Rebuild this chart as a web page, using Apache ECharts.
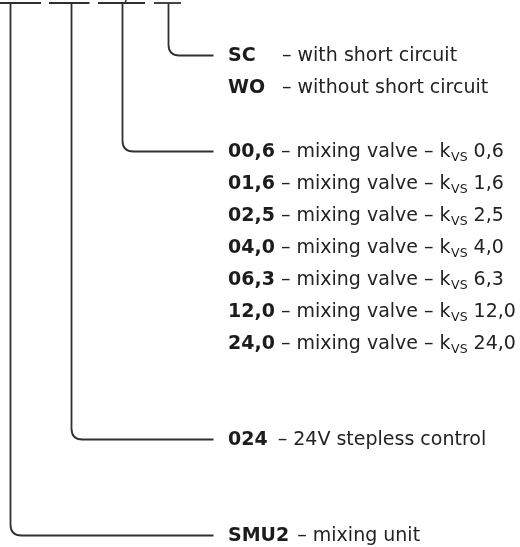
<!DOCTYPE html>
<html>
<head>
<meta charset="utf-8">
<script src="https://cdn.jsdelivr.net/npm/echarts@6/dist/echarts.min.js"></script>
<style>
html,body{margin:0;padding:0;background:#fff;}
#chart{width:520px;height:547px;}
</style>
</head>
<body>
<div id="chart"></div>
<script>
// ---- data ----
const codes = ['SC', 'WO', '00,6', '01,6', '02,5', '04,0', '06,3', '12,0', '24,0', '024', 'SMU2'];
const descriptions = ['with short circuit', 'without short circuit',
  'mixing valve', 'mixing valve', 'mixing valve', 'mixing valve', 'mixing valve', 'mixing valve', 'mixing valve',
  '24V stepless control', 'mixing unit'];
const kvsValues = ['', '', '0,6', '1,6', '2,5', '4,0', '6,3', '12,0', '24,0', '', ''];
const rowIndex = [0, 1, 3, 4, 5, 6, 7, 8, 9, 12, 15];
const codeSlot = [3, 3, 2, 2, 2, 2, 2, 2, 2, 1, 0];
const slots = [0, 1, 2, 3];

// ---- layout / style ----
const FONT = '"DejaVu Sans", Verdana, sans-serif';
const FS = 19, SUB_FS = 12.5;
const LINE = '#303030', TEXT = '#222222';
const slotSegments = [[-6, 41], [49, 89.5], [98, 145], [154, 181]];
const slotStems = [10.5, 71.5, 122.5, 168.5];
const topLineY = 3;
const lineEndX = 213.5, textX = 228, columnX = 282, radius = 11, textDy = 1;

const mctx = document.createElement('canvas').getContext('2d');
function measure(str, size, bold) {
  mctx.font = (bold ? 'bold ' : '') + size + 'px ' + FONT;
  return mctx.measureText(str).width;
}

// first row of each slot
const slotFirstRow = slots.map(s => {
  let m = Infinity;
  codeSlot.forEach((cs, i) => { if (cs === s) m = Math.min(m, rowIndex[i]); });
  return m;
});

const chart = echarts.init(document.getElementById('chart'), null, {renderer: 'canvas'});
chart.setOption({
  animation: false,
  backgroundColor: '#ffffff',
  grid: {left: 0, right: 0, top: 0, bottom: 0},
  xAxis: {type: 'value', min: 0, max: 520, show: false},
  yAxis: {type: 'value', min: -55 / 32, max: (547 - 55) / 32, inverse: true, show: false},
  graphic: [{
    type: 'line', shape: {x1: 126.5, y1: -1, x2: 125.3, y2: 2.2},
    style: {stroke: LINE, lineWidth: 1.4}
  }],
  series: [
    {
      type: 'custom',
      name: 'connectors',
      clip: false,
      data: slots.map(s => [s, slotFirstRow[s]]),
      encode: {x: 0, y: 1},
      renderItem: function (params, api) {
        const s = api.value(0);
        const row = api.value(1);
        const y = Math.round(api.coord([0, row])[1]) + 0.5;
        const seg = slotSegments[s];
        const xs = slotStems[s];
        const xEnd = lineEndX;
        const path = 'M' + xs + ' ' + topLineY + ' L' + xs + ' ' + (y - radius) +
          ' Q' + xs + ' ' + y + ' ' + (xs + radius) + ' ' + y + ' L' + xEnd + ' ' + y;
        return {
          type: 'group',
          children: [
            {type: 'line', shape: {x1: seg[0], y1: topLineY, x2: seg[1], y2: topLineY},
              style: {stroke: LINE, lineWidth: 1.8}},
            {type: 'path', shape: {pathData: path},
              style: {stroke: LINE, fill: null, lineWidth: 1.8}}
          ]
        };
      }
    },
    {
      type: 'custom',
      name: 'labels',
      clip: false,
      data: codes.map((c, i) => [i, rowIndex[i]]),
      encode: {x: 0, y: 1},
      renderItem: function (params, api) {
        const i = api.value(0);
        const y = api.coord([0, api.value(1)])[1] + textDy;
        const children = [];
        const code = codes[i];
        children.push({type: 'text', x: textX, y: y,
          style: {text: code, font: 'bold ' + FS + 'px ' + FONT, fill: '#1c1c1c', verticalAlign: 'middle', align: 'left'}});
        const slot = codeSlot[i];
        let x, desc;
        if (slot === 3) {
          x = columnX; desc = '– ' + descriptions[i];
        } else if (slot === 2) {
          x = textX + measure(code, FS, true); desc = ' – ' + descriptions[i] + ' – k';
        } else {
          x = textX + measure(code, FS, true) + (slot === 1 ? 4 : 2); desc = ' – ' + descriptions[i];
        }
        children.push({type: 'text', x: x, y: y,
          style: {text: desc, font: FS + 'px ' + FONT, fill: TEXT, verticalAlign: 'middle', align: 'left'}});
        if (kvsValues[i]) {
          x += measure(desc, FS, false) + 0.5;
          children.push({type: 'text', x: x, y: y + 5.5,
            style: {text: 'VS', font: SUB_FS + 'px ' + FONT, fill: TEXT, verticalAlign: 'middle', align: 'left'}});
          x += measure('VS', SUB_FS, false);
          children.push({type: 'text', x: x, y: y,
            style: {text: ' ' + kvsValues[i], font: FS + 'px ' + FONT, fill: TEXT, verticalAlign: 'middle', align: 'left'}});
        }
        return {type: 'group', children: children};
      }
    }
  ]
});
</script>
</body>
</html>
